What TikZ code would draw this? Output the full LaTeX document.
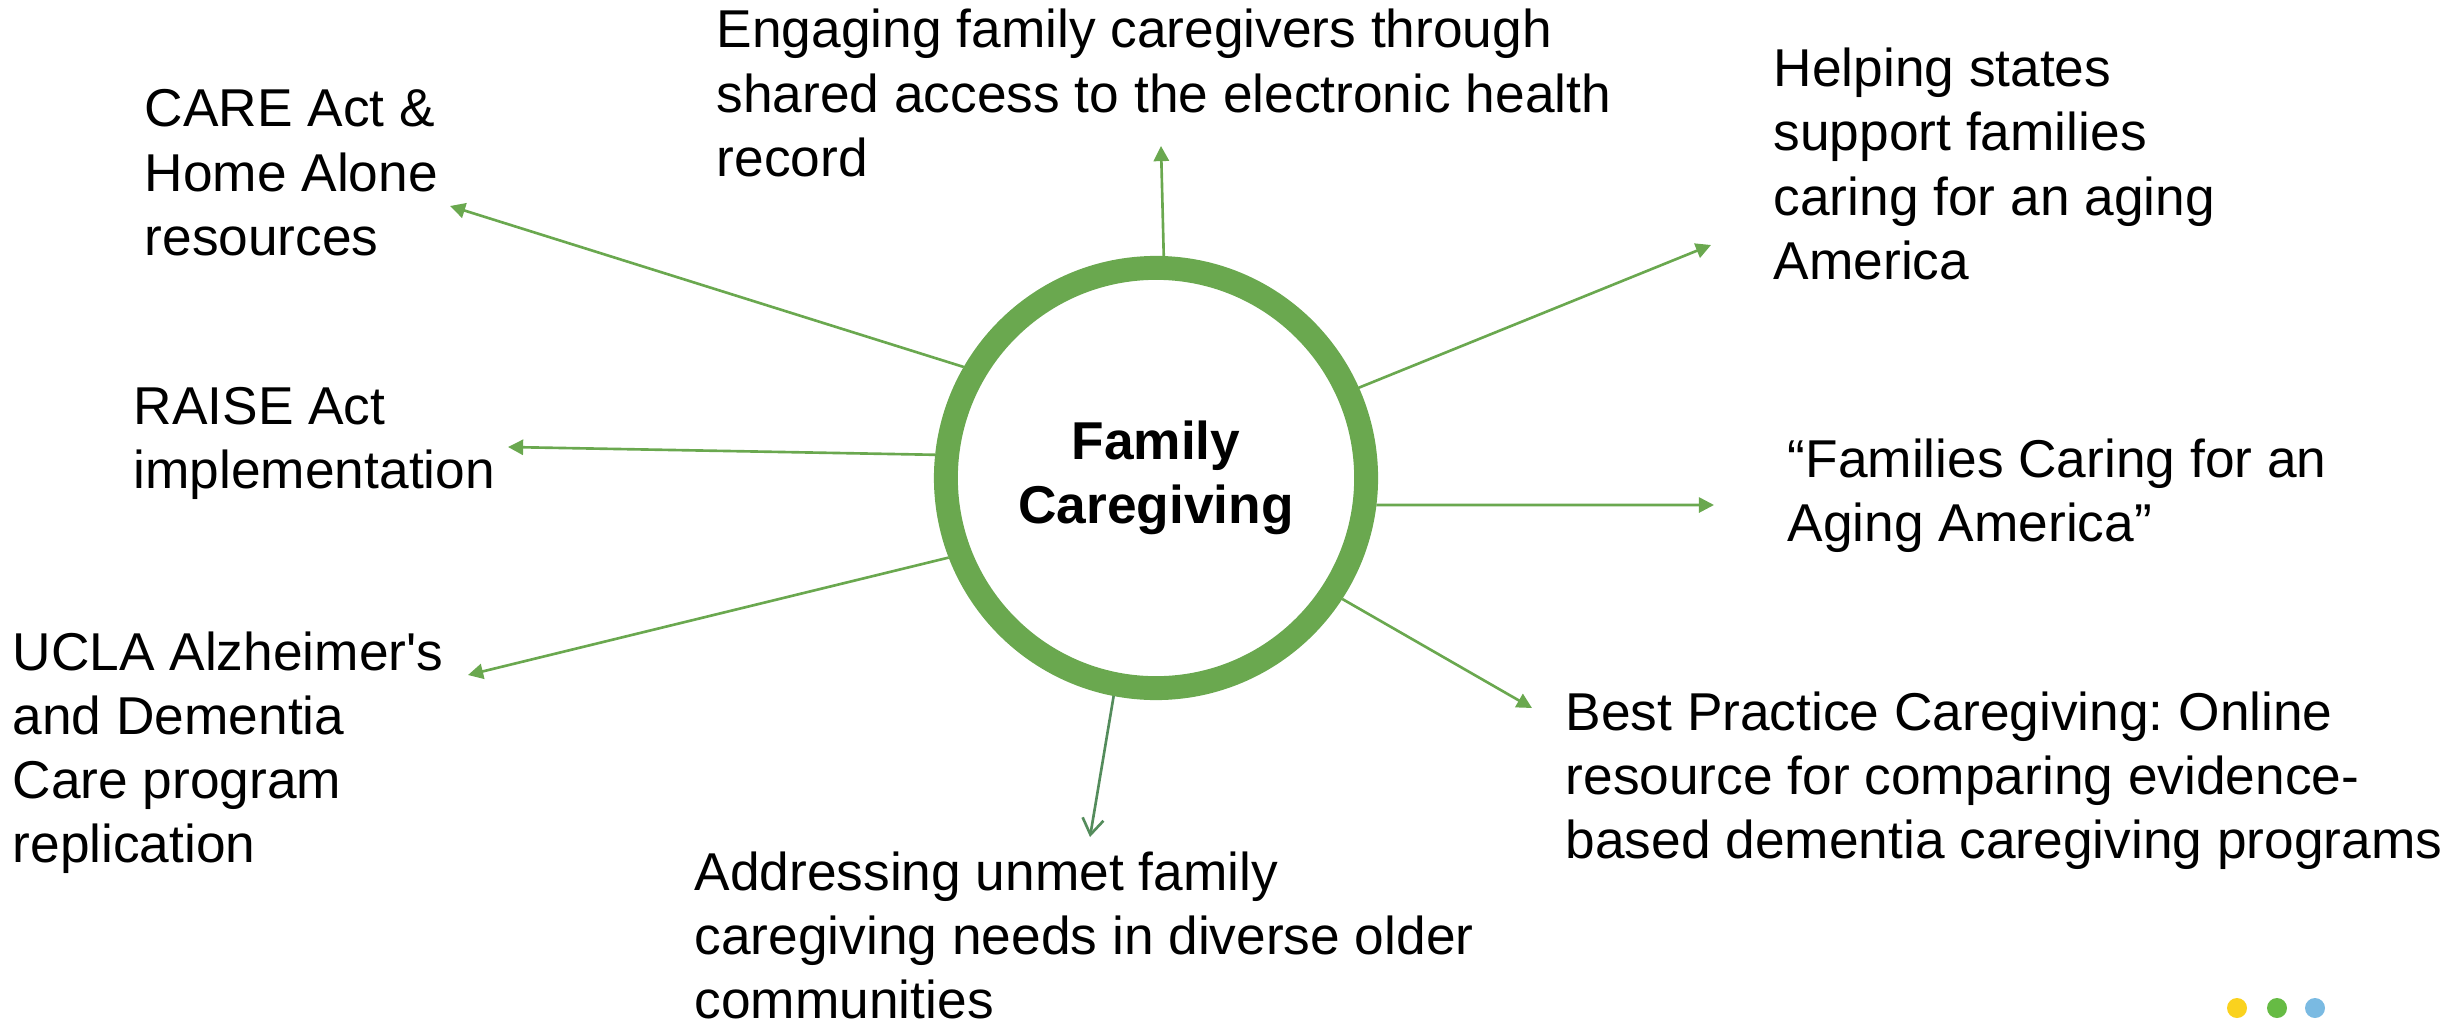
\documentclass[tikz,border=0pt]{standalone}
\usepackage{fontspec}
\setmainfont{Liberation Sans}
\usetikzlibrary{arrows.meta}
\frenchspacing
\definecolor{ringgreen}{RGB}{106,168,79}
\definecolor{darkgreen}{RGB}{84,140,92}
\definecolor{dotyellow}{RGB}{250,210,30}
\definecolor{dotgreen}{RGB}{102,187,68}
\definecolor{dotblue}{RGB}{122,186,226}
\tikzset{
  topic/.style={anchor=base west, align=left, inner sep=0pt, font=\fontsize{15.15}{18.2}\selectfont},
  spoke/.style={draw=ringgreen, line width=0.75pt, -{Triangle[length=4.3pt,width=4.3pt]}},
}
\begin{document}
\begin{tikzpicture}
[x=0.01cm, y=-0.01cm]
\useasboundingbox (0,0) rectangle (2461,1024);
\node (fc) [circle, draw=ringgreen, line width=6.8pt, minimum size=4.2cm, align=center, font=\fontsize{15.15}{18.2}\selectfont\bfseries] at (1156,478) {Family\\Caregiving};
% topics, placed by the baseline of their last line
\node (ehr) [topic] at (716,176) {Engaging family caregivers through\\shared access to the electronic health\\record};
\node (care) [topic] at (144,255) {CARE Act \&\\Home Alone\\resources};
\node (raise) [topic] at (133,488) {RAISE Act\\implementation};
\node (ucla) [topic] at (12,862) {UCLA Alzheimer\textquotesingle s\\and Dementia\\Care program\\replication};
\node (unmet) [topic] at (694,1018) {Addressing unmet family\\caregiving needs in diverse older\\communities};
\node (best) [topic] at (1565,858) {Best Practice Caregiving: Online\\resource for comparing evidence-\\based dementia caregiving programs};
\node (report) [topic] at (1787,541) {“Families Caring for an\\Aging America”};
\node (states) [topic] at (1773,279) {Helping states\\support families\\caring for an aging\\America};
% arrow tips
\coordinate (tehr) at (1161,146);
\coordinate (tcare) at (450,206);
\coordinate (traise) at (508,447);
\coordinate (tucla) at (468,675);
\coordinate (tunmet) at (1090,837);
\coordinate (tbest) at (1532,708);
\coordinate (treport) at (1714,505);
\coordinate (tstates) at (1711,245);
\draw [spoke] (fc.88.7) -- (tehr);
\draw [spoke] (fc.150.2) -- (tcare);
\draw [spoke] (fc.174.6) -- (traise);
\draw [spoke] (fc.201.5) -- (tucla);
\draw [spoke, draw=darkgreen, -{Straight Barb[length=4.5pt,width=6pt]}] (fc.259.7) -- (tunmet);
\draw [spoke] (fc.327.2) -- (tbest);
\draw [spoke] (fc.353) -- (treport);
\draw [spoke] (fc.24.7) -- (tstates);
% dots
\fill [dotyellow] (2237,1008) circle (10);
\fill [dotgreen] (2277,1008) circle (10);
\fill [dotblue] (2315,1008) circle (10);
\end{tikzpicture}
\end{document}
